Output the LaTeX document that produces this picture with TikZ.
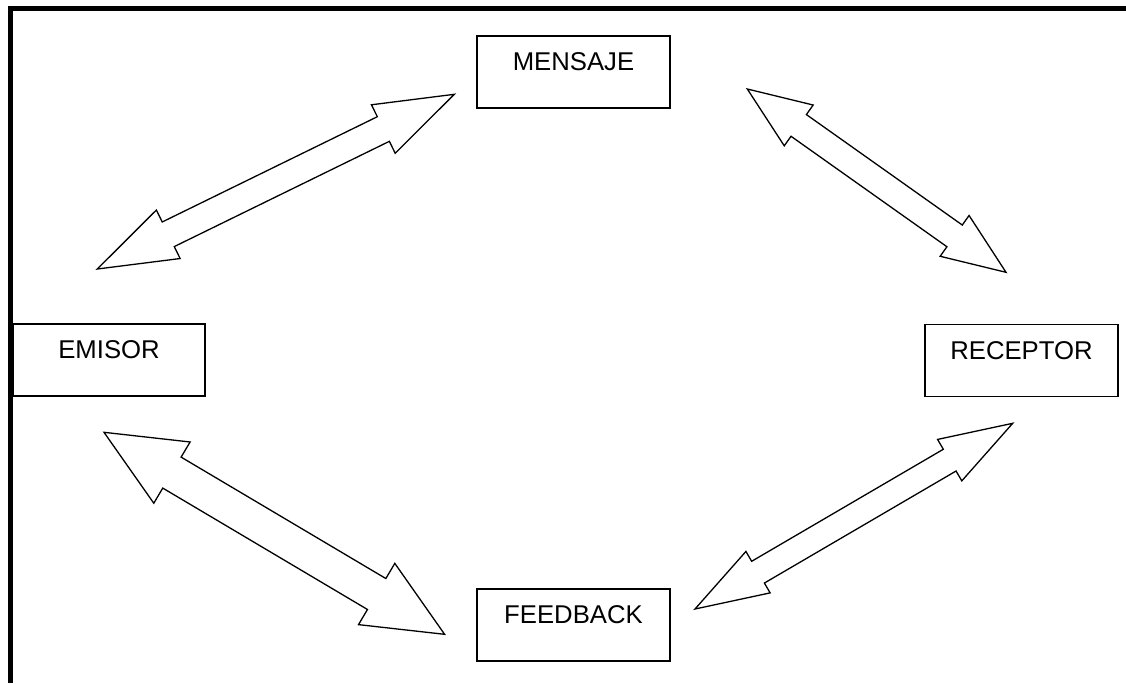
\documentclass[tikz,border=0pt]{standalone}
\usepackage{fontspec}
\setmainfont{Liberation Sans}
\usetikzlibrary{calc}

\tikzset{
  box/.style={draw, line width=1.3pt, minimum width=193pt, minimum height=72pt,
    inner sep=0pt, text height=18pt, text depth=21pt,
    font=\fontsize{25.7}{30}\selectfont},
  arrowline/.style={draw, line width=1.3pt, line join=miter, fill=white},
  frameline/.style={line width=5.5pt, line join=miter}
}

% Block double arrow between two tips:
% #1, #2 tips; #3 head length; #4 head half width; #5 shaft half width
\newcommand{\blockarrow}[5]{%
  \path[arrowline] (#1)
    -- ($(#1)!#3!(#2)!#4!90:(#2)$)
    -- ($(#1)!#3!(#2)!#5!90:(#2)$)
    -- ($(#2)!#3!(#1)!#5!-90:(#1)$)
    -- ($(#2)!#3!(#1)!#4!-90:(#1)$)
    -- (#2)
    -- ($(#2)!#3!(#1)!#4!90:(#1)$)
    -- ($(#2)!#3!(#1)!#5!90:(#1)$)
    -- ($(#1)!#3!(#2)!#5!-90:(#2)$)
    -- ($(#1)!#3!(#2)!#4!-90:(#2)$)
    -- cycle;}

\begin{document}
\begin{tikzpicture}[x=1pt, y=-1pt]
  \useasboundingbox (0,0) rectangle (1126,683);

  % frame on the left and top
  \draw[frameline] (10.5,683) -- (10.5,8.5) -- (1126,8.5);

  % boxes
  \node[box] (mensaje)  at (573.5,72)   {MENSAJE};
  \node[box, minimum width=192pt] (emisor) at (109,360) {EMISOR};
  \node[box] (receptor) at (1021.5,360.5) {RECEPTOR};
  \node[box] (feedback) at (573.5,625)  {FEEDBACK};

  % arrow tips
  \coordinate (e1) at (97.3,269);
  \coordinate (m1) at (454.3,94.3);
  \coordinate (m2) at (747.3,89);
  \coordinate (r1) at (1006,272.3);
  \coordinate (e2) at (104,432.3);
  \coordinate (f1) at (444.6,634.3);
  \coordinate (f2) at (695,609);
  \coordinate (r2) at (1012.7,423.3);

  % double block arrows
  \blockarrow{e1}{m1}{79pt}{27pt}{13.7pt}
  \blockarrow{m2}{r1}{63pt}{25pt}{13.3pt}
  \blockarrow{e2}{f1}{79pt}{35.6pt}{18pt}
  \blockarrow{f2}{r2}{73pt}{24pt}{12.6pt}
\end{tikzpicture}
\end{document}
